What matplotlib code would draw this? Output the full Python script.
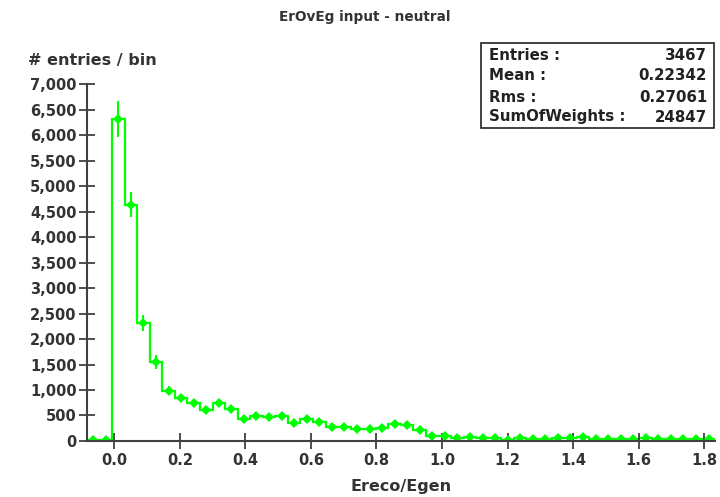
import numpy as np
import matplotlib
matplotlib.use("Agg")
import matplotlib.pyplot as plt
from matplotlib.ticker import FuncFormatter, MultipleLocator

# Histogram definition: 50 equal bins over the plotted range
x_min, x_max, n_bins = -0.083, 1.832, 50

bin_heights = [
    15, 10, 6320, 4630, 2307, 1550, 986, 837, 751, 608,
    751, 621, 431, 496, 477, 490, 346, 431, 366, 268,
    281, 235, 229, 248, 333, 314, 216, 100, 100, 50,
    75, 50, 60, 20, 55, 30, 30, 55, 60, 75,
    30, 30, 30, 35, 60, 30, 30, 30, 30, 30,
]
bin_errors = [
    10, 8, 350, 245, 155, 130, 90, 80, 75, 70,
    80, 75, 60, 65, 65, 70, 60, 65, 55, 45,
    45, 40, 40, 40, 50, 50, 40, 25, 25, 18,
    22, 18, 20, 12, 18, 14, 14, 18, 20, 22,
    14, 14, 14, 15, 20, 14, 14, 14, 14, 14,
]

stats_labels = ["Entries :", "Mean :", "Rms :", "SumOfWeights :"]
stats_values = ["3467", "0.22342", "0.27061", "24847"]

title = "ErOvEg input - neutral"
x_label = "Ereco/Egen"
y_label = "# entries / bin"

green = "#00ff00"
axis_col = "#404040"
text_col = "#333333"

edges = np.linspace(x_min, x_max, n_bins + 1)
centers = 0.5 * (edges[:-1] + edges[1:])
heights = np.array(bin_heights, dtype=float)
errors = np.array(bin_errors, dtype=float)

fig = plt.figure(figsize=(7.2, 4.97), dpi=100)
ax = fig.add_axes([0.1208, 0.1127, 0.872, 0.718])

ax.stairs(heights, edges, color=green, lw=1.6, baseline=0)
ax.errorbar(centers, heights, yerr=errors, fmt="D", ms=5.5, color=green,
            ecolor=green, elinewidth=1.5, capsize=3.5, capthick=1.5, mew=0)

ax.set_xlim(x_min, x_max)
ax.set_ylim(0, 7000)

for side in ("top", "right"):
    ax.spines[side].set_visible(False)
for side in ("left", "bottom"):
    ax.spines[side].set_color(axis_col)
    ax.spines[side].set_linewidth(1.5)

ax.xaxis.set_major_locator(MultipleLocator(0.2))
ax.yaxis.set_major_locator(MultipleLocator(500))
ax.xaxis.set_major_formatter(FuncFormatter(lambda v, p: f"{v:.1f}"))
ax.yaxis.set_major_formatter(FuncFormatter(lambda v, p: f"{v:,.0f}"))
ax.tick_params(axis="both", direction="inout", length=11, width=1.3,
               color=axis_col, labelcolor=text_col, labelsize=10.5)
ax.tick_params(axis="x", pad=3)
ax.tick_params(axis="y", pad=2)
for lab in ax.get_xticklabels() + ax.get_yticklabels():
    lab.set_fontweight("bold")

ax.set_xlabel(x_label, fontsize=11.5, fontweight="bold", color=text_col, labelpad=8)
fig.text(0.507, 0.965, title, ha="center", va="center", fontsize=9.8,
         fontweight="bold", color=text_col)
fig.text(0.039, 0.879, y_label, ha="left", va="center", fontsize=11.5,
         fontweight="bold", color=text_col)

# Statistics box in the upper right corner
bx0, by0, bw, bh = 481 / 720, 1 - 128 / 497, 233 / 720, 85 / 497
fig.patches.append(plt.Rectangle((bx0, by0), bw, bh, transform=fig.transFigure,
                                 fill=True, facecolor="white", edgecolor="#222222",
                                 lw=1.2, zorder=5))
row_y = [55, 76, 97, 117]
for lab, val, yy in zip(stats_labels, stats_values, row_y):
    fig.text(489 / 720, 1 - yy / 497, lab, ha="left", va="center", fontsize=10.8,
             fontweight="bold", color="#222222", zorder=6)
    fig.text(707 / 720, 1 - yy / 497, val, ha="right", va="center", fontsize=10.8,
             fontweight="bold", color="#222222", zorder=6)

fig.savefig("out.png", dpi=100)
